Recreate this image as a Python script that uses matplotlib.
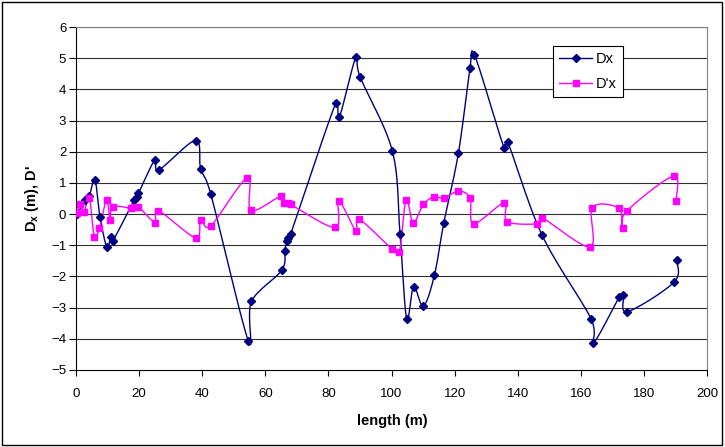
import numpy as np
import matplotlib
matplotlib.use('Agg')
import matplotlib.pyplot as plt
from matplotlib.patches import Rectangle

plt.rcParams['font.family'] = ['Liberation Sans', 'DejaVu Sans']
plt.rcParams['mathtext.fontset'] = 'custom'
plt.rcParams['mathtext.rm'] = 'Liberation Sans'
plt.rcParams['mathtext.bf'] = 'Liberation Sans:bold'

# data
length_dx = [0.4, 2.85, 4.2, 6.0, 7.6, 9.8, 11.0, 11.6, 18.4, 19.2, 19.8, 25.0, 26.3,
             37.9, 39.5, 42.7, 54.6, 55.6, 65.2, 66.2, 66.8, 67.3, 68.0, 82.3, 83.5,
             88.7, 90.0, 100.3, 102.7, 104.8, 107.0, 110.1, 113.6, 116.6, 121.2, 124.9,
             126.3, 135.7, 136.8, 147.7, 163.2, 164.0, 172.2, 173.5, 174.8, 189.6, 190.4]
dx = [0.0, 0.45, 0.58, 1.1, -0.09, -1.07, -0.72, -0.87, 0.44, 0.56, 0.67, 1.74, 1.42,
      2.36, 1.46, 0.65, -4.06, -2.8, -1.80, -1.17, -0.86, -0.76, -0.65, 3.55, 3.12,
      5.03, 4.41, 2.01, -0.63, -3.36, -2.33, -2.95, -1.96, -0.27, 1.95, 4.68,
      5.11, 2.12, 2.32, -0.67, -3.35, -4.13, -2.66, -2.61, -3.13, -2.18, -1.48]

length_ddx = [0.4, 1.3, 2.6, 4.2, 5.8, 7.4, 9.7, 10.8, 11.6, 17.3, 18.4, 19.8, 25.0,
              26.1, 37.9, 39.5, 42.7, 54.3, 55.5, 65.0, 66.0, 67.1, 68.0, 82.1, 83.3,
              88.7, 89.8, 100.1, 102.5, 104.6, 106.9, 110.1, 113.5, 116.5, 121.2, 124.9,
              126.0, 135.6, 136.7, 146.2, 147.6, 162.9, 163.7, 172.0, 173.3, 174.5,
              189.4, 190.2]
ddx = [0.05, 0.31, 0.08, 0.53, -0.72, -0.46, 0.45, -0.19, 0.24, 0.19, 0.24, 0.24, -0.27,
       0.11, -0.76, -0.19, -0.38, 1.17, 0.12, 0.58, 0.37, 0.34, 0.31, -0.43, 0.42,
       -0.54, -0.17, -1.11, -1.21, 0.45, -0.27, 0.31, 0.56, 0.51, 0.74, 0.51,
       -0.31, 0.35, -0.24, -0.31, -0.11, -1.05, 0.21, 0.19, -0.46, 0.09,
       1.22, 0.43]

# pixel scale of the plot area, used so the smoothing behaves like on screen
SX = 631 / 200
SY = 343 / 11


def smooth(x, y, n=16):
    # Excel-style smoothed line: cubic Bezier through the points
    p = np.column_stack([np.array(x) * SX, np.array(y) * SY]).astype(float)
    pts = [p[0]]
    t = np.linspace(0, 1, n)[1:, None]
    for i in range(len(p) - 1):
        p0 = p[i - 1] if i > 0 else p[i]
        p3 = p[i + 2] if i + 2 < len(p) else p[i + 1]
        b0, b3 = p[i], p[i + 1]
        seg = np.hypot(*(b3 - b0))
        h1 = (b3 - p0) / 6
        h2 = (p3 - b0) / 6
        lim = 0.8 * seg
        if np.hypot(*h1) > lim:
            h1 = h1 * lim / np.hypot(*h1)
        if np.hypot(*h2) > lim:
            h2 = h2 * lim / np.hypot(*h2)
        b1 = b0 + h1
        b2 = b3 - h2
        c = ((1 - t) ** 3) * b0 + 3 * ((1 - t) ** 2) * t * b1 + 3 * (1 - t) * t ** 2 * b2 + t ** 3 * b3
        pts.extend(c)
    pts = np.array(pts)
    return pts[:, 0] / SX, pts[:, 1] / SY


fig = plt.figure(figsize=(7.25, 4.47), dpi=100)
ax = fig.add_axes([76 / 725, 77 / 447, 631 / 725, 343 / 447])

for yv in range(-4, 7):
    ax.axhline(yv, color='#303030', lw=0.8, zorder=1)

sx, sy = smooth(length_dx, dx)
ax.plot(sx, sy, color='#000080', lw=1, zorder=3)
ax.plot(length_dx, dx, 'D', color='#000080', ms=4.5, zorder=4)

sx2, sy2 = smooth(length_ddx, ddx)
ax.plot(sx2, sy2, color='#FF00FF', lw=1, zorder=3)
ax.plot(length_ddx, ddx, 's', color='#FF00FF', ms=5, zorder=4)

# legend proxies
ax.plot([], [], color='#000080', lw=1, marker='D', ms=4.5, label='Dx')
ax.plot([], [], color='#FF00FF', lw=1, marker='s', ms=5, label="D'x")

ax.set_xlim(0, 200)
ax.set_ylim(-5, 6)
ax.set_xticks(range(0, 201, 20))
ax.set_yticks(range(-5, 7))
ax.tick_params(direction='out', labelsize=9.5, colors='black', width=0.8)
ax.tick_params(axis='x', length=4, pad=9)
ax.tick_params(axis='y', length=5, pad=2)
for s in ['left', 'bottom']:
    ax.spines[s].set_color('black')
    ax.spines[s].set_linewidth(0.8)
for s in ['top', 'right']:
    ax.spines[s].set_color('#808080')
    ax.spines[s].set_linewidth(0.8)

fig.text(392 / 725, 1 - 421 / 447, 'length (m)', fontsize=10.5, fontweight='bold',
         ha='center', va='center')
fig.text(32 / 725, 1 - 199 / 447, r"$\mathbf{D_x}$ (m), D'", fontsize=10.5, fontweight='bold',
         ha='center', va='center', rotation=90)

leg = fig.legend(loc='upper left', bbox_to_anchor=(553 / 725, 1 - 46 / 447),
                 fontsize=10.5, frameon=True, fancybox=False, handlelength=2.3,
                 borderpad=0.4, labelspacing=0.75, handletextpad=0.25, borderaxespad=0)
leg.get_frame().set_edgecolor('black')
leg.get_frame().set_linewidth(0.8)
leg.get_frame().set_alpha(1)

fig.patches.append(Rectangle((2 / 725, 2 / 447), 720 / 725, 443 / 447, transform=fig.transFigure,
                             fill=False, edgecolor='black', lw=1))

fig.savefig('out.png', dpi=100)
